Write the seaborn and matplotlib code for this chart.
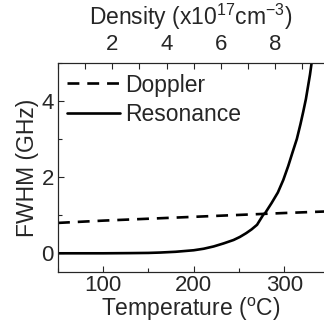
import matplotlib
matplotlib.use("Agg")
import matplotlib.pyplot as plt
import seaborn as sns
import pandas as pd
from matplotlib.ticker import MultipleLocator

sns.set_style("ticks")
plt.rcParams['font.family'] = ['Liberation Sans', 'DejaVu Sans']
plt.rcParams['mathtext.fontset'] = 'custom'
plt.rcParams['mathtext.rm'] = 'Liberation Sans'

# Data
doppler_T = [50, 100, 150, 200, 250, 300, 345]
doppler_w = [0.80, 0.86, 0.91, 0.96, 1.01, 1.06, 1.10]

res_T = [50, 100, 130, 150, 163, 180, 190, 200, 211, 222, 233, 244, 251, 258, 264, 270, 277, 279,
         286, 293, 299, 304.5, 309, 314, 318, 321, 324, 326.6, 328.5, 330.3, 335]
res_w = [0.0, 0.0, 0.005, 0.01, 0.02, 0.04, 0.06, 0.08, 0.12, 0.18, 0.26, 0.35, 0.43, 0.53, 0.63, 0.75, 1.02, 1.06,
         1.32, 1.60, 1.93, 2.30, 2.64, 3.01, 3.40, 3.72, 4.06, 4.43, 4.70, 5.01, 5.70]

x_ticks = [100, 200, 300]
y_ticks = [0, 2, 4]
top_ticks = [2, 4, 6, 8]

fs = 16
fig = plt.figure(figsize=(3.24, 3.27), dpi=100)
ax = fig.add_axes([58/324, (327-272.3)/327, (324-58)/324, (272.3-63.3)/327])

df_d = pd.DataFrame({"T": doppler_T, "w": doppler_w})
df_r = pd.DataFrame({"T": res_T, "w": res_w})
sns.lineplot(data=df_d, x="T", y="w", ax=ax, color="black", lw=1.9,
             linestyle=(0, (4.5, 3.0)), label="Doppler")
sns.lineplot(data=df_r, x="T", y="w", ax=ax, color="black", lw=1.9,
             label="Resonance")

ax.set_xlim(50, 344)
ax.set_ylim(-0.5, 5.0)
ax.set_xticks(x_ticks)
ax.set_yticks(y_ticks)
ax.xaxis.set_minor_locator(MultipleLocator(50))
ax.yaxis.set_minor_locator(MultipleLocator(1))
ax.tick_params(which="both", direction="in", labelsize=fs, width=0.8)
ax.tick_params(axis="x", pad=2)
ax.tick_params(axis="y", pad=3)
ax.tick_params(which="major", length=4)
ax.tick_params(which="minor", length=3)
ax.set_xlabel("Temperature ($^\\mathrm{o}$C)", fontsize=fs + 0.5, labelpad=0)
ax.set_ylabel("FWHM (GHz)", fontsize=fs + 0.5, labelpad=2)
for s in ax.spines.values():
    s.set_linewidth(0.8)
ax.spines["right"].set_visible(False)

leg = ax.legend(loc="upper left", frameon=False, fontsize=fs + 0.5, handlelength=2.3,
                handletextpad=0.25, borderaxespad=0.0, labelspacing=0.3,
                bbox_to_anchor=(0.0, 0.995))

ax2 = ax.twiny()
ax2.set_xlim(0, (324-57.6)/27.2)
ax2.set_xticks(top_ticks)
ax2.xaxis.set_minor_locator(MultipleLocator(1))
ax2.tick_params(which="both", direction="in", labelsize=fs, width=0.8, pad=6)
ax2.tick_params(which="major", length=4)
ax2.tick_params(which="minor", length=4)
ax2.set_xlabel("Density (x10$^{17}$cm$^{-3}$)", fontsize=fs + 0.5)
ax2.xaxis.set_label_coords(0.5, 1.0 + 46/209, transform=ax.transAxes)
ax2.xaxis.label.set_va("center")
ax2.spines["right"].set_visible(False)
for s in ax2.spines.values():
    s.set_linewidth(0.8)

fig.savefig("out.png", dpi=100)
